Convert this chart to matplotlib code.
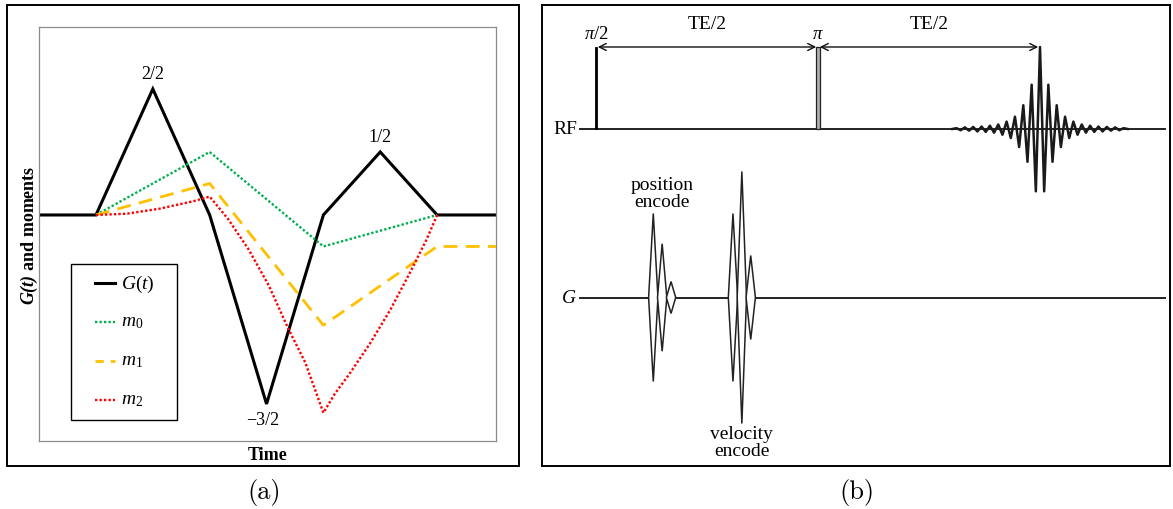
import matplotlib
matplotlib.use("Agg")
import matplotlib.pyplot as plt
from matplotlib.patches import Rectangle, Polygon
from matplotlib.lines import Line2D

plt.rcParams["font.family"] = ["Liberation Serif", "DejaVu Serif"]
plt.rcParams["mathtext.fontset"] = "custom"
plt.rcParams["mathtext.rm"] = "Liberation Serif"
plt.rcParams["mathtext.it"] = "Liberation Serif:italic"
plt.rcParams["mathtext.bf"] = "Liberation Serif:bold:italic"

# ---------------- (a) gradient waveform and its moments ----------------
G_T = [-0.5, 0.0, 0.5, 1.0, 1.5, 2.0, 2.5, 3.0, 3.6]
G_VAL = [0.0, 0.0, 1.0, 0.0, -1.5, 0.0, 0.5, 0.0, 0.0]

M0_T = [0.0, 1.0, 2.0, 3.0]
M0_VAL = [0.0, 0.5, -0.25, 0.0]

M1_T = [0.0, 1.0, 2.0, 3.0, 3.6]
M1_VAL = [0.0, 0.25, -0.875, -0.25, -0.25]

M2_T = [0.0, 0.27, 0.56, 0.86, 1.0, 1.16, 1.34, 1.52, 1.69, 1.84, 2.0,
        2.10, 2.23, 2.41, 2.59, 2.76, 2.91, 3.0]
M2_VAL = [0.0, 0.01, 0.05, 0.11, 0.146, -0.03, -0.27, -0.56, -0.90, -1.17, -1.57,
          -1.42, -1.26, -1.02, -0.75, -0.46, -0.19, 0.0]

LOBE_T = [0.5, 1.5, 2.5]
LOBE_AMP = [1.0, -1.5, 0.5]
LOBE_LABELS = ["2/2", "\u22123/2", "1/2"]

SERIES_LABELS = [r"$G(t)$", r"$m_0$", r"$m_1$", r"$m_2$"]

# ---------------- (b) flow-encoded spin-echo sequence ----------------
RF_PULSE_T = [0.0, 1.0]          # pi/2 and pi pulses (units of TE/2)
RF_PULSE_LABELS = [r"$\pi/2$", r"$\pi$"]
ECHO_T = 2.0
ECHO_HALF_PERIOD = 0.0188
# peak heights of the echo, from its centre outwards
ECHO_PEAKS = [1.0, -0.76, 0.54, -0.40, 0.29, -0.22, 0.15, -0.11, 0.09, -0.07,
              0.055, -0.045, 0.04, -0.035, 0.03, -0.03, 0.025, -0.02, 0.02,
              -0.015, 0.01]

POS_T = [0.258, 0.298, 0.338]
POS_AMP = [1.0, 0.64, 0.19]
VEL_T = [0.617, 0.657, 0.697]
VEL_AMP = [1.0, 1.5, 0.5]
LOBE_HALF = 0.021

W, H = 1173, 510
fig = plt.figure(figsize=(W / 100, H / 100), dpi=100)


def fx(x):
    return x / W


def fy(y):
    return 1 - y / H


def frame(x0, y0, x1, y1):
    fig.add_artist(Rectangle((fx(x0), fy(y1)), (x1 - x0) / W, (y1 - y0) / H,
                             transform=fig.transFigure, fill=False,
                             lw=1.4, ec="black"))


# ----- panel (a) -----
frame(7, 6, 519, 467)
ax = fig.add_axes([fx(39), fy(442), (496 - 39) / W, (442 - 28) / H])
ax.set_xlim(-0.501, 3.518)
ax.set_ylim(-1.794, 1.492)
ax.set_xticks([])
ax.set_yticks([])
for s in ax.spines.values():
    s.set_color("#8c8c8c")
    s.set_linewidth(0.9)

green, gold, red = "#00B050", "#FFC000", "#FF0000"
dot = (0, (1.0, 0.9))
ax.plot(G_T, G_VAL, color="black", lw=2.2, solid_joinstyle="miter", zorder=2)
ax.plot(M0_T, M0_VAL, color=green, lw=1.7, ls=dot, zorder=3)
ax.plot(M1_T, M1_VAL, color=gold, lw=2.0, ls=(0, (5.0, 3.0)), zorder=3)
ax.plot(M2_T, M2_VAL, color=red, lw=1.7, ls=dot, zorder=3)

for t, a, lab in zip(LOBE_T, LOBE_AMP, LOBE_LABELS):
    up = a > 0
    ax.annotate(lab, (t, a), xytext=(-3 if not up else 0, 5 if up else -5),
                textcoords="offset points", ha="center",
                va="bottom" if up else "top", fontsize=13)

ax.text((29.5 - 39) / 457, 0.5, r"$\mathbf{G(t)}$ and moments",
        transform=ax.transAxes, rotation=90, ha="center", va="center",
        fontsize=13, fontweight="bold")
ax.text(0.5, (442 - 455) / 414, "Time", transform=ax.transAxes,
        ha="center", va="center", fontsize=13, fontweight="bold")


# legend box
def axx(px):
    return (px - 39) / 457


def axy(py):
    return (442 - py) / 414


ax.add_patch(Rectangle((axx(71), axy(420.5)), axx(177) - axx(71),
                       axy(264.5) - axy(420.5), transform=ax.transAxes,
                       fc="white", ec="black", lw=1.0, zorder=5))
styles = [dict(color="black", lw=2.2),
          dict(color=green, lw=1.7, ls=dot),
          dict(color=gold, lw=2.0, ls=(0, (3.0, 2.5))),
          dict(color=red, lw=1.7, ls=dot)]
for i, (lab, st) in enumerate(zip(SERIES_LABELS, styles)):
    yy = axy(284 + 39 * i)
    ax.add_line(Line2D([axx(95), axx(115)], [yy, yy],
                       transform=ax.transAxes, zorder=6, **st))
    ax.text(axx(121), yy, lab, transform=ax.transAxes, ha="left",
            va="center", fontsize=14, zorder=6)

fig.text(fx(264), fy(493), "(a)", ha="center", va="center",
         fontsize=19, family="cmr10")

# ----- panel (b) -----
bx = fig.add_axes([fx(541.5), fy(467), (1169.5 - 541.5) / W, (467 - 6) / H])
bx.set_xlim((541.5 - 596) / 222, (1169.5 - 596) / 222)
bx.set_ylim((130 - 467) / 82, (130 - 6) / 82)
bx.set_xticks([])
bx.set_yticks([])
for s in bx.spines.values():
    s.set_color("black")
    s.set_linewidth(1.4)

RF0 = 0.0
G0 = (130 - 298.5) / 82
GSCALE = 84 / 82
t_start, t_end = -0.074, 2.563

# RF line
bx.plot([t_start, t_end], [RF0, RF0], color="#222222", lw=1.4, zorder=2)
pw = 0.012
bx.add_patch(Rectangle((RF_PULSE_T[0] - pw / 2, RF0), pw, 1.0,
                       fc="black", ec="black", lw=0.6, zorder=3))
bx.add_patch(Rectangle((RF_PULSE_T[1] - pw * 0.85, RF0), pw * 1.7, 1.0,
                       fc="#b0b0b0", ec="#222222", lw=0.9, zorder=3))
for t, lab in zip(RF_PULSE_T, RF_PULSE_LABELS):
    bx.text(t, 1.06, lab, ha="center", va="bottom", fontsize=13.5)

# echo
peaks = ECHO_PEAKS[::-1][:-1] + ECHO_PEAKS
n = len(ECHO_PEAKS) - 1
echo_t = [ECHO_T + (k - n) * ECHO_HALF_PERIOD for k in range(len(peaks))]
echo_t = [echo_t[0] - ECHO_HALF_PERIOD] + echo_t + [echo_t[-1] + ECHO_HALF_PERIOD]
echo_v = [RF0] + [RF0 + p for p in peaks] + [RF0]
bx.plot(echo_t, echo_v, color="#1a1a1a", lw=1.8, zorder=4,
        solid_joinstyle="round")

# TE/2 arrows
gap = 0.008
for a, b in [(RF_PULSE_T[0], RF_PULSE_T[1]), (RF_PULSE_T[1], ECHO_T)]:
    bx.annotate("", xy=(b - gap, 1.0), xytext=(a + gap, 1.0),
                arrowprops=dict(arrowstyle="<->,head_length=0.5,head_width=0.25",
                                lw=1.0, color="#111111", shrinkA=0, shrinkB=0,
                                mutation_scale=10))
    bx.text((a + b) / 2, (130 - 25) / 82, "TE/2", ha="center", va="center",
            fontsize=14)

# gradient line and encoding lobes
bx.plot([t_start, t_end], [G0, G0], color="#222222", lw=1.4, zorder=2)
for ts, amps in [(POS_T, POS_AMP), (VEL_T, VEL_AMP)]:
    for t, a in zip(ts, amps):
        h = a * GSCALE
        bx.add_patch(Polygon([(t - LOBE_HALF, G0), (t, G0 + h),
                              (t + LOBE_HALF, G0), (t, G0 - h)],
                             closed=True, fc="white", ec="#222222", lw=1.1,
                             zorder=3))

bx.text(t_start - 0.012, RF0, "RF", ha="right", va="center", fontsize=14)
bx.text(t_start - 0.012, G0, r"$G$", ha="right", va="center", fontsize=14)
bx.text(sum(POS_T) / 3, (130 - 194) / 82, "position\nencode", ha="center",
        va="center", fontsize=14, linespacing=1.0)
bx.text(sum(VEL_T) / 3, (130 - 443) / 82, "velocity\nencode", ha="center",
        va="center", fontsize=14, linespacing=1.0)

fig.text(fx(857), fy(493), "(b)", ha="center", va="center",
         fontsize=19, family="cmr10")

fig.savefig("out.png", dpi=100)
